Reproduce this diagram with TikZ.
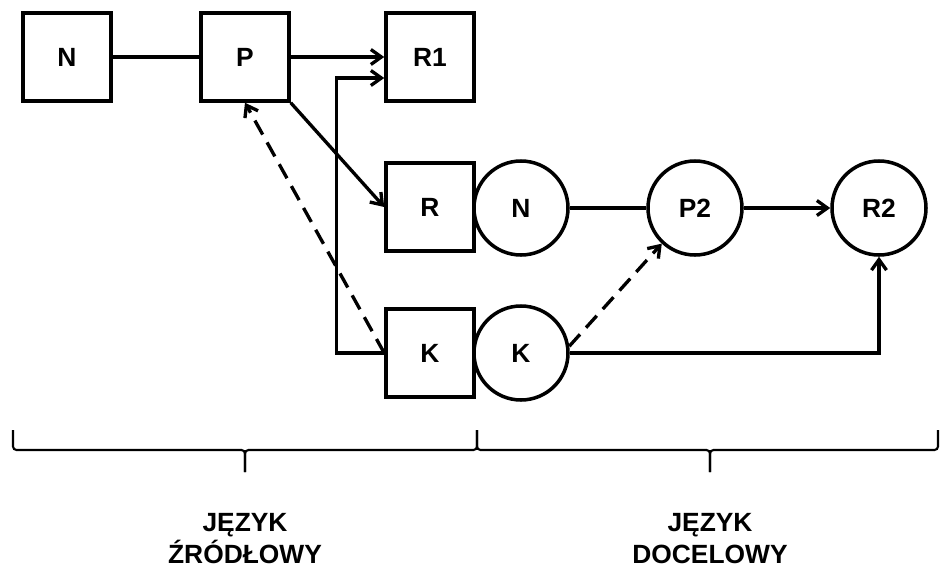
\documentclass[tikz,border=0pt]{standalone}
\usepackage{fontspec}
\setmainfont{Liberation Sans}
\usetikzlibrary{arrows.meta}
\tikzset{
    txt/.style={font=\bfseries\fontsize{15}{18}\selectfont},
    box/.style={txt, draw, line width=2pt, minimum size=1.76cm, inner sep=0pt},
    circ/.style={txt, draw, circle, line width=2pt, minimum size=1.88cm, inner sep=0pt},
    link/.style={line width=1.9pt},
    arr/.style={link, -{Straight Barb[length=2.1mm,width=3mm]}},
    dsh/.style={arr, dash pattern=on 0.32cm off 0.18cm},
    brc/.style={line width=1.2pt, rounded corners=2pt},
    lbl/.style={txt, align=center, inner sep=0pt}
}
\begin{document}
\begin{tikzpicture}
    \useasboundingbox (0,0) rectangle (18.82,11.36);
    % jezyk zrodlowy
    \node[box] (N) at (1.34,10.22) {N};
    \node[box] (P) at (4.90,10.22) {P};
    \node[box] (R1) at (8.60,10.22) {R1};
    \node[box] (R) at (8.60,7.22) {R};
    \node[box] (K) at (8.60,4.30) {K};
    % jezyk docelowy
    \node[circ] (NR) at (10.42,7.20) {N};
    \node[circ] (P2) at (13.90,7.20) {P2};
    \node[circ] (R2) at (17.58,7.20) {R2};
    \node[circ] (KR) at (10.42,4.30) {K};
    \draw[link] (N) -- (P);
    \draw[arr] (P) -- (R1);
    \draw[arr] (P.south east) -- (R.west);
    \draw[arr] (K.west) -- ++(-0.96,0) |- ([yshift=-0.42cm]R1.west);
    \draw[dsh] (K.west) -- (P.south);
    \draw[link] (NR) -- (P2);
    \draw[arr] (P2) -- (R2);
    \draw[dsh] (KR.8) -- (P2.227);
    \draw[arr] (KR) -| (R2);
    % klamry
    \foreach \a/\m/\b in {0.26/4.90/9.54, 9.54/14.20/18.76} {
        \draw[brc] (\a,2.76) -- (\a,2.36) -- (\m,2.36) -- (\m,1.92);
        \draw[brc] (\m,1.92) -- (\m,2.36) -- (\b,2.36) -- (\b,2.76);
    }
    \node[lbl, anchor=south] (src) at (4.90,0.08) {JĘZYK\\ŹRÓDŁOWY};
    \node[lbl, anchor=south] (tgt) at (14.20,0.08) {JĘZYK\\DOCELOWY};
\end{tikzpicture}
\end{document}
